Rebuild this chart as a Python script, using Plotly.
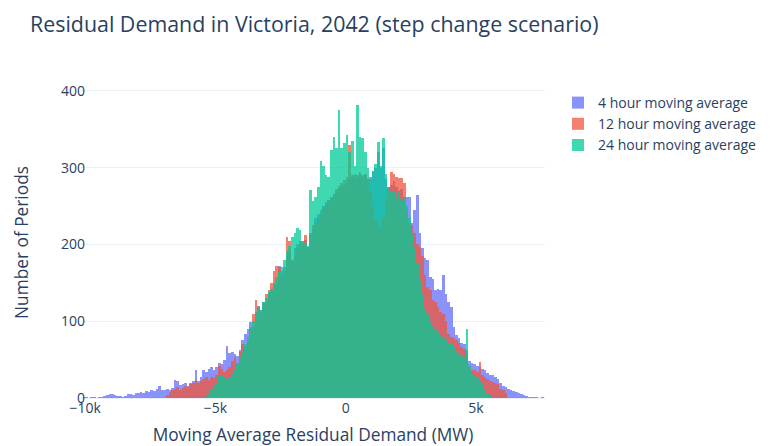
import plotly.graph_objects as go

# ---- data (bin counts; bins are 100 MW wide) ----
bin_width = 100
start_4h = -10100
start_12h = -6900
start_24h = -5400

counts_4h = [
    1, 1, 0, 1, 1, 0, 1, 1, 2, 4,
    5, 5, 4, 2, 2, 1, 3, 5, 5, 4,
    6, 7, 8, 6, 9, 8, 10, 9, 12, 15,
    11, 10, 12, 11, 13, 23, 22, 17, 18, 20,
    16, 19, 22, 36, 22, 28, 37, 34, 38, 40,
    36, 41, 45, 44, 50, 68, 58, 60, 57, 55,
    62, 75, 84, 90, 99, 92, 110, 120, 115, 122,
    125, 136, 140, 147, 150, 172, 165, 170, 185, 190,
    180, 195, 200, 205, 202, 206, 195, 215, 225, 235,
    240, 245, 250, 255, 258, 262, 265, 268, 272, 275,
    278, 280, 285, 288, 285, 290, 292, 288, 290, 285,
    288, 295, 300, 320, 300, 325, 285, 275, 278, 282,
    275, 270, 272, 262, 262, 262, 228, 245, 264, 215,
    195, 182, 180, 158, 155, 141, 142, 140, 160, 136,
    125, 118, 93, 82, 78, 72, 70, 62, 48, 45,
    44, 42, 40, 38, 36, 33, 30, 30, 28, 25,
    20, 15, 14, 12, 10, 9, 8, 6, 5, 4,
    2, 1, 1, 1, 1, 0, 1,
]

counts_12h = [
    4, 8, 10, 12, 14, 11, 13, 15, 14, 18,
    20, 24, 19, 22, 25, 27, 24, 28, 26, 30,
    42, 38, 34, 36, 40, 48, 54, 45, 60, 70,
    66, 75, 90, 110, 128, 118, 112, 125, 135, 140,
    150, 165, 172, 170, 160, 165, 210, 205, 178, 185,
    195, 200, 205, 212, 196, 212, 220, 228, 235, 240,
    248, 252, 256, 262, 266, 272, 276, 280, 284, 288,
    330, 290, 292, 288, 294, 290, 292, 285, 270, 250,
    232, 225, 222, 235, 260, 275, 294, 292, 288, 286,
    286, 280, 245, 228, 225, 215, 200, 197, 185, 160,
    145, 140, 128, 125, 118, 112, 110, 100, 84, 80,
    78, 76, 72, 66, 64, 55, 40, 36, 36, 34,
    47, 30, 28, 25, 22, 21, 20, 18, 12, 11,
    6,
]

counts_24h = [
    3, 6, 12, 16, 20, 30, 30, 27, 25, 28,
    33, 38, 45, 52, 60, 70, 80, 92, 100, 112,
    118, 115, 125, 130, 138, 142, 150, 158, 165, 170,
    180, 192, 198, 210, 215, 222, 219, 205, 200, 198,
    271, 256, 262, 275, 308, 302, 290, 288, 323, 340,
    325, 375, 325, 332, 342, 320, 335, 302, 381, 340,
    338, 320, 300, 285, 295, 305, 334, 302, 338, 292,
    275, 268, 270, 262, 268, 258, 262, 250, 235, 215,
    195, 175, 155, 135, 118, 110, 100, 95, 90, 86,
    82, 78, 75, 72, 70, 65, 60, 58, 55, 52,
    90, 43, 33, 30, 28, 22, 18, 12, 6, 3,
]

series_names = ["4 hour moving average", "12 hour moving average", "24 hour moving average"]
series_colors = ["#636efa", "#EF553B", "#00cc96"]
series_starts = [start_4h, start_12h, start_24h]
series_counts = [counts_4h, counts_12h, counts_24h]

fig = go.Figure()
for name, color, start, counts in zip(series_names, series_colors, series_starts, series_counts):
    centers = [start + bin_width / 2 + i * bin_width for i in range(len(counts))]
    fig.add_trace(go.Bar(
        x=centers, y=counts, width=bin_width, name=name,
        marker=dict(color=color, line=dict(width=0)),
        opacity=0.75,
    ))

# the page body has an 8px default margin, so the figure is sized/placed to compensate
fig.update_layout(
    template="plotly_white",
    width=763, height=438,
    barmode="overlay", bargap=0,
    font=dict(family="Open Sans, Verdana, sans-serif", color="#2a3f5f", size=14),
    margin=dict(l=73, r=226, t=79, b=48, autoexpand=False),
    title=dict(text="Residual Demand in Victoria, 2042 (step change scenario)",
               x=22 / 763, xanchor="left", xref="container",
               y=1 - 17 / 438, yanchor="middle", yref="container",
               font=dict(size=21.4)),
    xaxis=dict(title=dict(text="Moving Average Residual Demand (MW)", font=dict(size=17.3)),
               range=[-10160, 7650], tickfont=dict(size=14), automargin=False),
    yaxis=dict(title=dict(text="Number of Periods", font=dict(size=17.3), standoff=27),
               range=[0, 405], dtick=100, tickfont=dict(size=14), automargin=False,
               ticklabelstandoff=-5),
    legend=dict(font=dict(size=14), y=1.0, yanchor="top", x=1.028, xanchor="left",
                xref="paper"),
)

fig.write_html("out.html")
